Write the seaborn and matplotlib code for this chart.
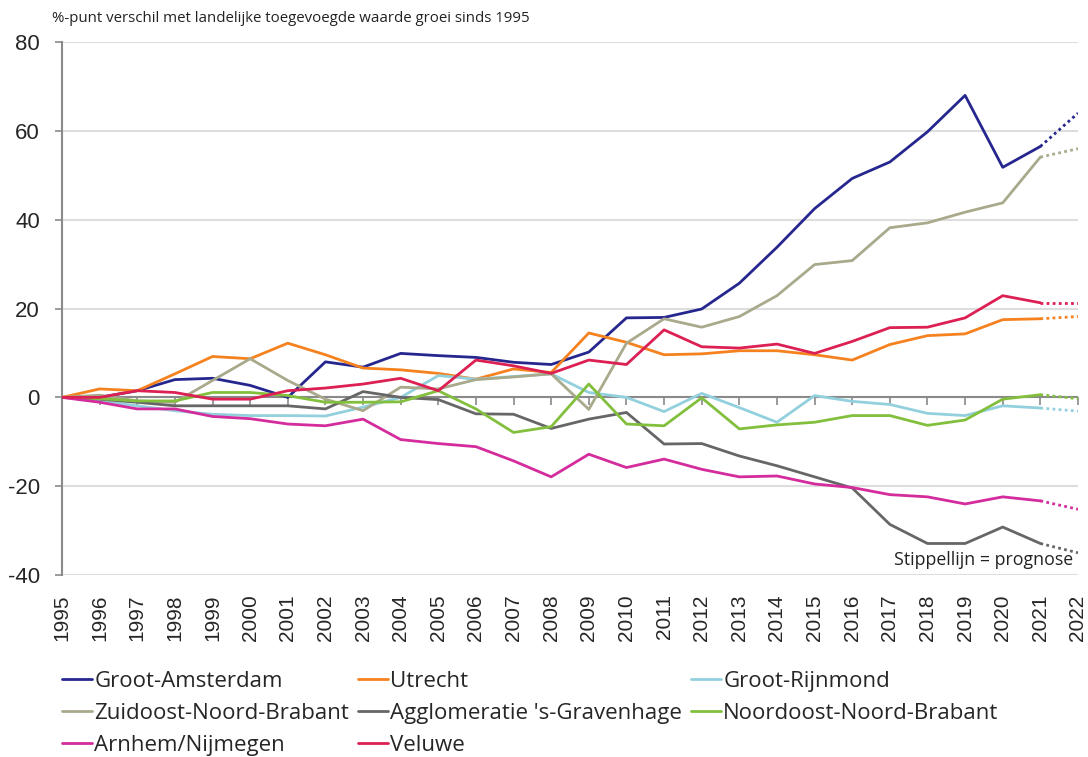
import pandas as pd
import numpy as np
import matplotlib
matplotlib.use('Agg')
import matplotlib.pyplot as plt
from matplotlib.markers import TICKDOWN
import seaborn as sns
sns.set_style('white')
plt.rcParams['font.family'] = ['Open Sans', 'DejaVu Sans']

# %-punt verschil met landelijke groei, 1995-2022 (2022 = prognose)
years = list(range(1995, 2023))

groot_amsterdam = [0, 0, 1.5, 4.0, 4.3, 2.7, 0, 8.0, 6.8, 9.9, 9.4, 9.0, 7.9, 7.4,
                   10.2, 17.9, 18.0, 19.9, 25.7, 33.8, 42.5, 49.3, 53.0, 59.8, 68.0,
                   51.8, 56.5, 64.0]
utrecht = [0, 1.9, 1.5, 5.3, 9.2, 8.7, 12.2, 9.6, 6.6, 6.2, 5.4, 4.1, 6.4, 5.6,
           14.5, 12.4, 9.6, 9.8, 10.5, 10.5, 9.6, 8.4, 11.9, 13.9, 14.3, 17.5, 17.7, 18.2]
groot_rijnmond = [0, -0.8, -1.9, -3.0, -3.8, -4.1, -4.1, -4.2, -2.2, 0, 4.9, 4.1, 4.7,
                  5.3, 1.1, 0, -3.2, 0.9, -2.3, -5.6, 0.4, -0.9, -1.6, -3.6, -4.1,
                  -1.9, -2.4, -3.1]
zuidoost_nb = [0, 0.5, -0.8, -1.1, 3.8, 8.7, 3.8, -0.4, -3.0, 2.3, 1.9, 4.0, 4.6, 5.3,
               -2.7, 12.2, 17.7, 15.8, 18.2, 22.9, 29.9, 30.8, 38.2, 39.3, 41.7, 43.8,
               54.1, 56.0]
den_haag = [0, -0.4, -1.1, -1.9, -1.9, -1.9, -1.9, -2.6, 1.3, 0, -0.5, -3.7, -3.8, -7.0,
            -4.9, -3.4, -10.5, -10.4, -13.2, -15.4, -17.9, -20.4, -28.6, -32.9, -32.9,
            -29.2, -32.9, -35.0]
noordoost_nb = [0, -0.3, -0.8, -0.8, 1.1, 1.1, 0.4, -1.1, -1.1, -1.0, 1.5, -2.6, -7.9,
                -6.6, 3.0, -6.0, -6.4, -0.1, -7.1, -6.2, -5.6, -4.1, -4.1, -6.3, -5.1,
                -0.4, 0.6, -0.3]
arnhem_nijmegen = [0, -1.1, -2.6, -2.6, -4.3, -4.8, -6.0, -6.4, -4.9, -9.5, -10.4, -11.1,
                   -14.3, -17.9, -12.8, -15.8, -13.9, -16.2, -17.9, -17.7, -19.5, -20.3,
                   -21.9, -22.4, -24.0, -22.4, -23.3, -25.2]
veluwe = [0, 0, 1.5, 1.1, -0.4, -0.4, 1.5, 2.1, 3.0, 4.3, 1.5, 8.4, 7.1, 5.4, 8.4, 7.4,
          15.2, 11.4, 11.1, 12.0, 9.9, 12.6, 15.7, 15.8, 17.9, 22.9, 21.3, 21.3]

names = ['Groot-Amsterdam', 'Utrecht', 'Groot-Rijnmond', 'Zuidoost-Noord-Brabant',
         "Agglomeratie 's-Gravenhage", 'Noordoost-Noord-Brabant', 'Arnhem/Nijmegen', 'Veluwe']
values = [groot_amsterdam, utrecht, groot_rijnmond, zuidoost_nb, den_haag,
          noordoost_nb, arnhem_nijmegen, veluwe]
colors = ['#26268f', '#f5821f', '#93d0dd', '#a9a98c', '#666666', '#82bf3c', '#d42c9c', '#dc2053']
palette = dict(zip(names, colors))

df = pd.concat([pd.DataFrame({'jaar': years, 'regio': n, 'waarde': v})
                for n, v in zip(names, values)], ignore_index=True)
hist = df[df['jaar'] <= 2021]
prog = df[df['jaar'] >= 2021]

fig = plt.figure(figsize=(10.88, 7.57), dpi=100)
ax = fig.add_axes([0.057, 0.2404, 0.9338, 0.704])

sns.lineplot(data=hist, x='jaar', y='waarde', hue='regio', hue_order=names,
             palette=palette, linewidth=2, ax=ax, zorder=3)
sns.lineplot(data=prog, x='jaar', y='waarde', hue='regio', hue_order=names,
             palette=palette, linewidth=2, linestyle=(0, (1, 1.2)), ax=ax,
             legend=False, zorder=3)

ax.set_xlim(1995, 2022)
ax.set_ylim(-40, 80)
ax.set_yticks(range(-40, 81, 20))
ax.set_xticks(years)
ax.set_xticklabels([str(y) for y in years], rotation=90, fontsize=15,
                   family=['Liberation Sans'])
ax.set_yticklabels([str(v) for v in range(-40, 81, 20)], fontsize=16,
                   family=['Liberation Sans'])
ax.tick_params(axis='x', length=0, pad=14)
ax.tick_params(axis='y', left=True, length=5, width=1.2, color='#8a8a8a',
               direction='out', pad=11)
ax.set_xlabel('')
ax.set_ylabel('')

ax.yaxis.grid(True, color='#dedede', linewidth=1.5)
ax.set_axisbelow(True)
ax.axhline(0, color='#8a8a8a', linewidth=1.5, zorder=2)
# kleine streepjes op de nullijn, bij elk jaar
ax.plot(years, [0] * len(years), linestyle='none', marker=TICKDOWN, markersize=6,
        markeredgewidth=1.2, color='#8a8a8a', zorder=2, clip_on=False)
for s in ['top', 'right', 'bottom']:
    ax.spines[s].set_visible(False)
ax.spines['left'].set_color('#8a8a8a')
ax.spines['left'].set_linewidth(1.5)

ax.text(0.995, 0.012, 'Stippellijn = prognose', transform=ax.transAxes,
        ha='right', va='bottom', fontsize=12.8, color='#222222')
fig.text(0.048, 0.976, '%-punt verschil met landelijke toegevoegde waarde groei sinds 1995',
         ha='left', va='center', fontsize=10.8, color='#222222')

handles, labels = ax.get_legend_handles_labels()
ax.legend_.remove()
order = [0, 3, 6, 1, 4, 7, 2, 5]
fig.legend([handles[i] for i in order], [labels[i] for i in order], ncol=3,
           loc='upper left', bbox_to_anchor=(0.057, 0.114), frameon=False,
           fontsize=16, handlelength=1.35, handletextpad=0.1, columnspacing=0.4,
           labelspacing=0.5, borderaxespad=0, borderpad=0)

fig.savefig('out.png', dpi=100)
